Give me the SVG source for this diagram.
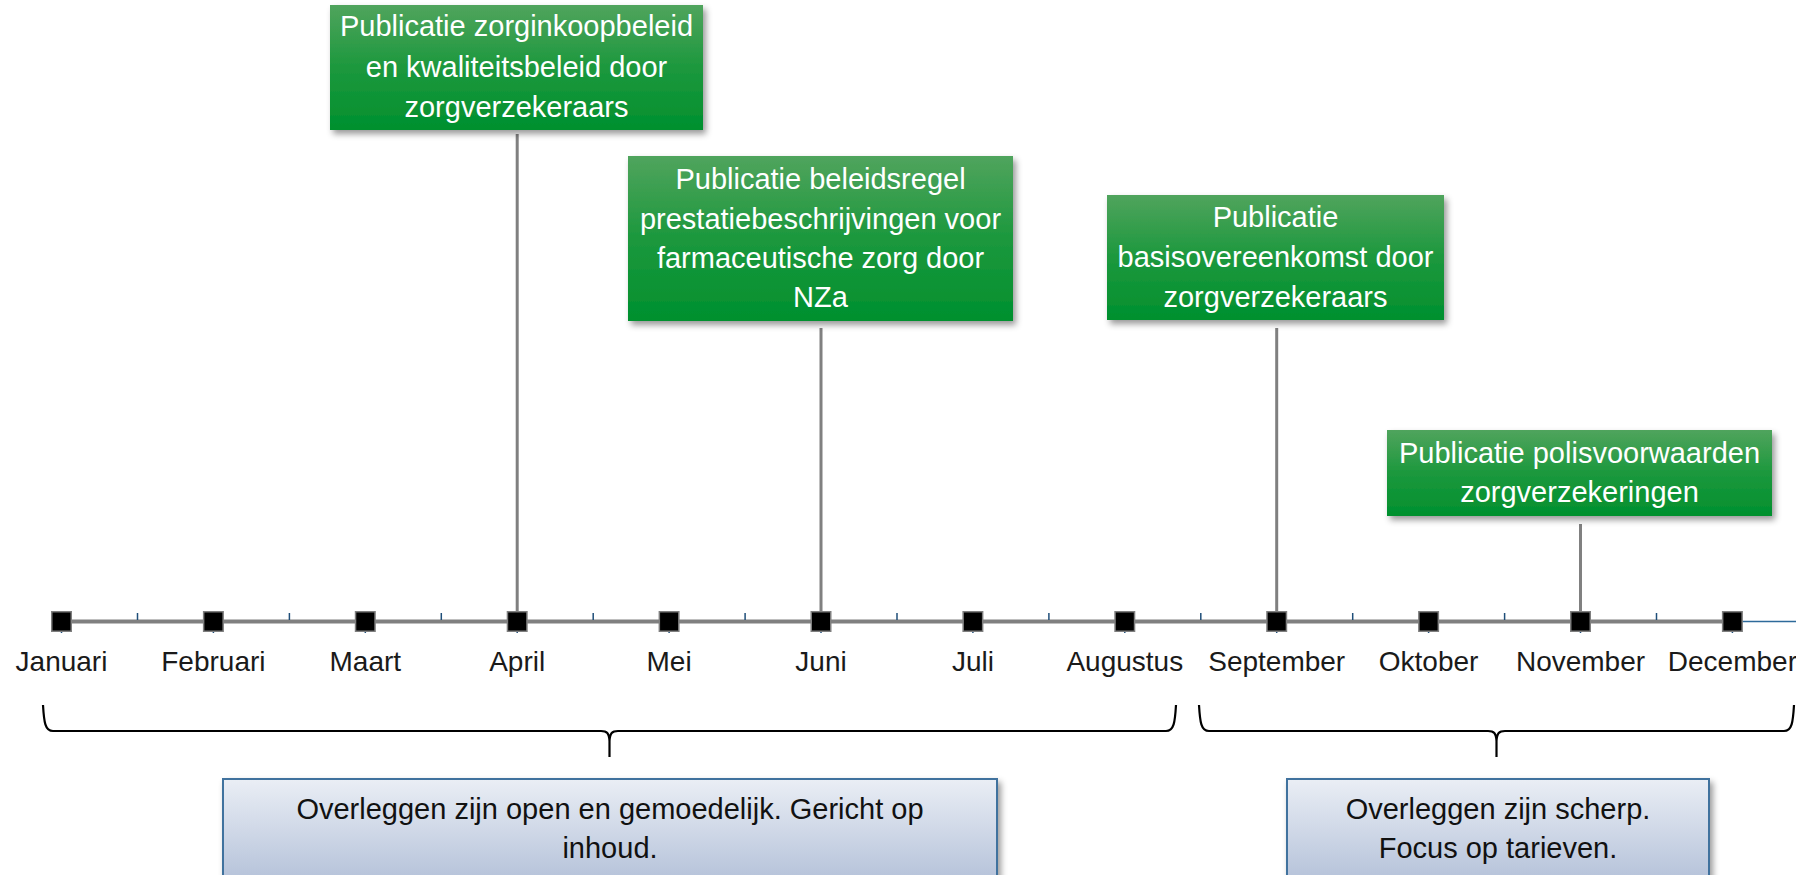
<svg xmlns="http://www.w3.org/2000/svg" width="1796" height="875" viewBox="0 0 1796 875">
<style>
text{font-family:"Liberation Sans",Arial,sans-serif;}
.g{fill:#fff;font-size:29px;text-anchor:middle;}
.b{fill:#111;font-size:29px;text-anchor:middle;}
.m{fill:#1a1a1a;font-size:28px;text-anchor:middle;}
.gbox{fill:url(#gg);filter:url(#sh);}
.bbox{fill:url(#bg);stroke:#41729e;stroke-width:2;filter:url(#sh);}
.conn{stroke:#808080;stroke-width:3;fill:none;}
.tick{stroke:#1f4e79;stroke-width:1.5;}
.sq{fill:#000;stroke:#7f7f7f;stroke-width:1.5;}
.brace{fill:none;stroke:#000;stroke-width:2.2;}
</style>
<defs>
<linearGradient id="gg" x1="0" y1="0" x2="0" y2="1">
<stop offset="0" stop-color="#50a45d"/>
<stop offset="0.5" stop-color="#1c983d"/>
<stop offset="1" stop-color="#00902e"/>
</linearGradient>
<linearGradient id="bg" x1="0" y1="0" x2="0" y2="1">
<stop offset="0" stop-color="#eaeef5"/>
<stop offset="1" stop-color="#b6c3da"/>
</linearGradient>
<filter id="sh" x="-10%" y="-10%" width="130%" height="140%">
<feDropShadow dx="3" dy="4" stdDeviation="3" flood-color="#000" flood-opacity="0.4"/>
</filter>
</defs>
<rect width="1796" height="875" fill="#fff"/>
<g id="axis">
<line x1="61.5" y1="621.5" x2="1732.4" y2="621.5" stroke="#808080" stroke-width="4"/>
<line x1="1742" y1="621.5" x2="1796" y2="621.5" stroke="#2d6a9a" stroke-width="1.5"/>
<g class="tick">
<line x1="137.5" y1="613" x2="137.5" y2="620"/>
<line x1="289.4" y1="613" x2="289.4" y2="620"/>
<line x1="441.3" y1="613" x2="441.3" y2="620"/>
<line x1="593.2" y1="613" x2="593.2" y2="620"/>
<line x1="745.1" y1="613" x2="745.1" y2="620"/>
<line x1="897" y1="613" x2="897" y2="620"/>
<line x1="1048.9" y1="613" x2="1048.9" y2="620"/>
<line x1="1200.8" y1="613" x2="1200.8" y2="620"/>
<line x1="1352.7" y1="613" x2="1352.7" y2="620"/>
<line x1="1504.6" y1="613" x2="1504.6" y2="620"/>
<line x1="1656.5" y1="613" x2="1656.5" y2="620"/>
<line x1="61.5" y1="622" x2="61.5" y2="633"/>
<line x1="213.4" y1="622" x2="213.4" y2="633"/>
<line x1="365.3" y1="622" x2="365.3" y2="633"/>
<line x1="517.2" y1="622" x2="517.2" y2="633"/>
<line x1="669.1" y1="622" x2="669.1" y2="633"/>
<line x1="821" y1="622" x2="821" y2="633"/>
<line x1="972.9" y1="622" x2="972.9" y2="633"/>
<line x1="1124.8" y1="622" x2="1124.8" y2="633"/>
<line x1="1276.7" y1="622" x2="1276.7" y2="633"/>
<line x1="1428.6" y1="622" x2="1428.6" y2="633"/>
<line x1="1580.5" y1="622" x2="1580.5" y2="633"/>
<line x1="1732.4" y1="622" x2="1732.4" y2="633"/>
</g>
</g>
<g id="connectors">
<line class="conn" x1="517.2" y1="134" x2="517.2" y2="612"/>
<line class="conn" x1="821" y1="328" x2="821" y2="612"/>
<line class="conn" x1="1276.7" y1="328" x2="1276.7" y2="612"/>
<line class="conn" x1="1580.5" y1="524" x2="1580.5" y2="612"/>
</g>
<g id="months">
<rect class="sq" x="51.75" y="611.75" width="19.5" height="19.5"/>
<rect class="sq" x="203.65" y="611.75" width="19.5" height="19.5"/>
<rect class="sq" x="355.55" y="611.75" width="19.5" height="19.5"/>
<rect class="sq" x="507.45" y="611.75" width="19.5" height="19.5"/>
<rect class="sq" x="659.35" y="611.75" width="19.5" height="19.5"/>
<rect class="sq" x="811.25" y="611.75" width="19.5" height="19.5"/>
<rect class="sq" x="963.15" y="611.75" width="19.5" height="19.5"/>
<rect class="sq" x="1115.05" y="611.75" width="19.5" height="19.5"/>
<rect class="sq" x="1266.95" y="611.75" width="19.5" height="19.5"/>
<rect class="sq" x="1418.85" y="611.75" width="19.5" height="19.5"/>
<rect class="sq" x="1570.75" y="611.75" width="19.5" height="19.5"/>
<rect class="sq" x="1722.65" y="611.75" width="19.5" height="19.5"/>
<text class="m" x="61.5" y="671">Januari</text>
<text class="m" x="213.4" y="671">Februari</text>
<text class="m" x="365.3" y="671">Maart</text>
<text class="m" x="517.2" y="671">April</text>
<text class="m" x="669.1" y="671">Mei</text>
<text class="m" x="821" y="671">Juni</text>
<text class="m" x="972.9" y="671">Juli</text>
<text class="m" x="1124.8" y="671">Augustus</text>
<text class="m" x="1276.7" y="671">September</text>
<text class="m" x="1428.6" y="671">Oktober</text>
<text class="m" x="1580.5" y="671">November</text>
<text class="m" x="1732.4" y="671">December</text>
</g>
<g id="node-zorginkoop">
<rect class="gbox" x="330" y="5" width="373" height="125"/>
<text class="g" x="516.5" y="36">Publicatie zorginkoopbeleid</text>
<text class="g" x="516.5" y="76.5">en kwaliteitsbeleid door</text>
<text class="g" x="516.5" y="117">zorgverzekeraars</text>
</g>
<g id="node-beleidsregel">
<rect class="gbox" x="628" y="156" width="385" height="165"/>
<text class="g" x="820.5" y="189">Publicatie beleidsregel</text>
<text class="g" x="820.5" y="228.5">prestatiebeschrijvingen voor</text>
<text class="g" x="820.5" y="268">farmaceutische zorg door</text>
<text class="g" x="820.5" y="307">NZa</text>
</g>
<g id="node-basisovereenkomst">
<rect class="gbox" x="1107" y="195" width="337" height="125"/>
<text class="g" x="1275.5" y="227">Publicatie</text>
<text class="g" x="1275.5" y="267">basisovereenkomst door</text>
<text class="g" x="1275.5" y="307">zorgverzekeraars</text>
</g>
<g id="node-polisvoorwaarden">
<rect class="gbox" x="1387" y="430" width="385" height="86"/>
<text class="g" x="1579.5" y="463">Publicatie polisvoorwaarden</text>
<text class="g" x="1579.5" y="502">zorgverzekeringen</text>
</g>
<g id="brace-left">
<path class="brace" d="M43,705 C44,722 45,731 53,731 L601,731 C607,731 609,733 609.5,741 L609.5,757 M609.5,741 C610,733 612,731 618,731 L1166,731 C1174,731 1175,722 1176,705"/>
</g>
<g id="brace-right">
<path class="brace" d="M1199,705 C1200,722 1201,731 1209,731 L1488,731 C1494,731 1496,733 1496.5,741 L1496.5,757 M1496.5,741 C1497,733 1499,731 1505,731 L1784,731 C1792,731 1793,722 1794,705"/>
</g>
<g id="node-open">
<rect class="bbox" x="223" y="779" width="774" height="100"/>
<text class="b" x="610" y="819">Overleggen zijn open en gemoedelijk. Gericht op</text>
<text class="b" x="610" y="858">inhoud.</text>
</g>
<g id="node-scherp">
<rect class="bbox" x="1287" y="779" width="422" height="100"/>
<text class="b" x="1498" y="819">Overleggen zijn scherp.</text>
<text class="b" x="1498" y="858">Focus op tarieven.</text>
</g>
</svg>
